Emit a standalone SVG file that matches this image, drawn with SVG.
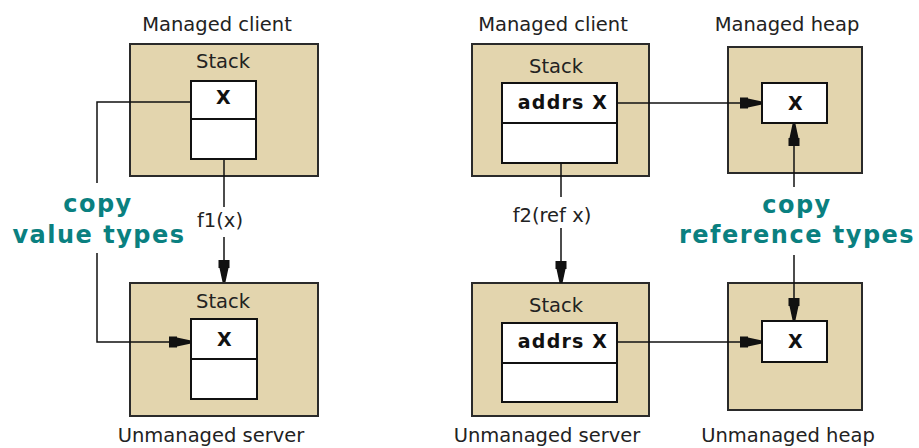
<svg xmlns="http://www.w3.org/2000/svg" width="919" height="448" viewBox="0 0 919 448">
  <style>
    .area { fill: #E3D5AE; stroke: #2a2a2a; stroke-width: 2; }
    .cell { fill: #ffffff; stroke: #111111; stroke-width: 2; }
    .div { stroke: #111111; stroke-width: 2; fill: none; }
    .lbl { font-family: "DejaVu Sans", Verdana, sans-serif; font-size: 19.5px; fill: #222222; text-anchor: middle; }
    .val { font-family: "DejaVu Sans", Verdana, sans-serif; font-size: 19px; font-weight: bold; fill: #111111; text-anchor: middle; letter-spacing: 1.2px; }
    .note { font-family: "DejaVu Sans", Verdana, sans-serif; font-size: 24px; font-weight: bold; fill: #0A8080; text-anchor: middle; letter-spacing: 1.5px; }
    .wire { stroke: #111111; stroke-width: 1.5; fill: none; }
  </style>
  <defs>
    <marker id="head" markerUnits="userSpaceOnUse" viewBox="0 0 22 12" refX="22" refY="6" markerWidth="22" markerHeight="12" orient="auto">
      <path d="M0,0.5 L8,0.5 L8,1.5 L22,4.5 L22,7.5 L8,10.5 L8,11.5 L0,11.5 Z" fill="#111111"/>
    </marker>
  </defs>

  <!-- value-type call: managed client stack -->
  <g id="client-stack-value">
    <text class="lbl" x="217" y="31">Managed client</text>
    <rect class="area" x="130" y="44" width="188" height="132"/>
    <text class="lbl" x="223" y="68">Stack</text>
    <rect class="cell" x="191" y="81" width="65" height="78"/>
    <line class="div" x1="191" y1="119" x2="256" y2="119"/>
    <text class="val" x="224" y="104">X</text>
  </g>

  <!-- value-type call: unmanaged server stack -->
  <g id="server-stack-value">
    <rect class="area" x="130" y="283" width="188" height="133"/>
    <text class="lbl" x="223" y="308">Stack</text>
    <rect class="cell" x="191" y="319" width="66" height="80"/>
    <line class="div" x1="191" y1="359" x2="257" y2="359"/>
    <text class="val" x="225" y="346">X</text>
    <text class="lbl" x="211" y="442">Unmanaged server</text>
  </g>

  <!-- reference-type call: managed client stack -->
  <g id="client-stack-ref">
    <text class="lbl" x="553" y="31">Managed client</text>
    <rect class="area" x="472" y="44" width="177" height="132"/>
    <text class="lbl" x="556" y="73">Stack</text>
    <rect class="cell" x="502" y="83" width="115" height="80"/>
    <line class="div" x1="502" y1="123" x2="617" y2="123"/>
    <text class="val" x="563" y="109">addrs X</text>
  </g>

  <!-- reference-type call: unmanaged server stack -->
  <g id="server-stack-ref">
    <rect class="area" x="472" y="283" width="177" height="133"/>
    <text class="lbl" x="556" y="312">Stack</text>
    <rect class="cell" x="502" y="323" width="115" height="79"/>
    <line class="div" x1="502" y1="363" x2="617" y2="363"/>
    <text class="val" x="563" y="348">addrs X</text>
    <text class="lbl" x="547" y="442">Unmanaged server</text>
  </g>

  <!-- managed heap -->
  <g id="managed-heap">
    <text class="lbl" x="787" y="31">Managed heap</text>
    <rect class="area" x="728" y="47" width="134" height="126"/>
    <rect class="cell" x="762" y="83" width="65" height="40"/>
    <text class="val" x="796" y="110">X</text>
  </g>

  <!-- unmanaged heap -->
  <g id="unmanaged-heap">
    <rect class="area" x="728" y="283" width="134" height="127"/>
    <rect class="cell" x="762" y="321" width="65" height="41"/>
    <text class="val" x="796" y="348">X</text>
    <text class="lbl" x="788" y="442">Unmanaged heap</text>
  </g>

  <!-- copy notes -->
  <g id="note-value">
    <text class="note" x="98" y="212">copy</text>
    <text class="note" x="99" y="243">value types</text>
  </g>
  <g id="note-ref">
    <text class="note" x="797" y="213">copy</text>
    <text class="note" x="797" y="243">reference types</text>
  </g>

  <!-- call labels -->
  <g id="call-labels">
    <text class="lbl" x="220" y="227">f1(x)</text>
    <text class="lbl" x="552" y="222">f2(ref x)</text>
  </g>

  <!-- connectors -->
  <g id="connectors">
    <path class="wire" d="M191,102 H97 V183"/>
    <path class="wire" d="M97,253 V342 H191" marker-end="url(#head)"/>
    <path class="wire" d="M224,159 V207"/>
    <path class="wire" d="M224,237 V282" marker-end="url(#head)"/>
    <path class="wire" d="M617,103 H762" marker-end="url(#head)"/>
    <path class="wire" d="M561,163 V197"/>
    <path class="wire" d="M561,228 V283" marker-end="url(#head)"/>
    <path class="wire" d="M794,187 V124" marker-end="url(#head)"/>
    <path class="wire" d="M794,255 V320" marker-end="url(#head)"/>
    <path class="wire" d="M617,342 H762" marker-end="url(#head)"/>
  </g>
</svg>
